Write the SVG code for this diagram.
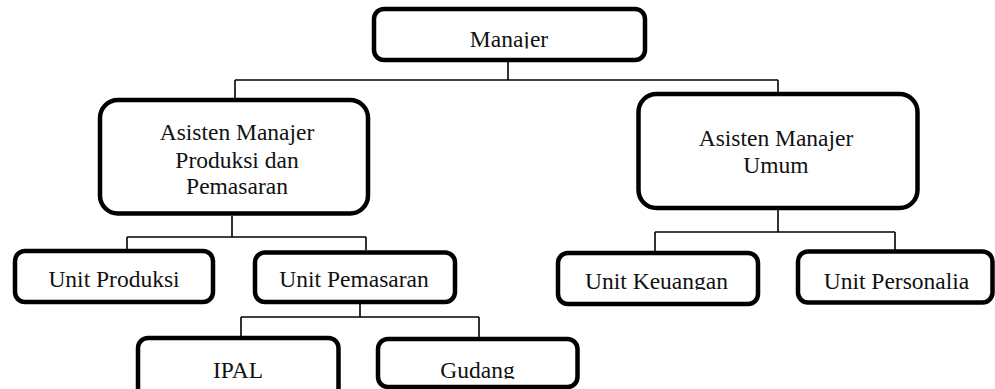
<svg xmlns="http://www.w3.org/2000/svg" width="995" height="389" viewBox="0 0 995 389">
  <style>
    .box { fill: #ffffff; stroke: #000000; stroke-width: 4.5; }
    .lbl { font-family: "Liberation Serif", "Times New Roman", serif; font-size: 23.5px; fill: #111111; text-anchor: middle; }
    .wire { fill: none; stroke: #000000; stroke-width: 1.6; }
  </style>
  <defs>
    <!-- text frames that cut off descenders -->
    <clipPath id="clipTop"><rect x="380" y="12" width="260" height="36.5"/></clipPath>
    <clipPath id="clipKeu"><rect x="562" y="256" width="190" height="34"/></clipPath>
    <clipPath id="clipGud"><rect x="382" y="342" width="190" height="37"/></clipPath>
  </defs>

  <g id="connectors">
    <path class="wire" d="M508 62 V80 M235 80 H778 M235 80 V98 M778 80 V92"/>
    <path class="wire" d="M232 216 V237 M127 237 H366 M127 237 V249 M366 237 V250"/>
    <path class="wire" d="M360 304 V317 M241 317 H479 M241 317 V336 M479 317 V337"/>
    <path class="wire" d="M778 210 V232 M655 232 H895 M655 232 V251 M895 232 V250"/>
  </g>

  <g id="manajer">
    <rect class="box" x="374" y="9" width="271" height="51" rx="10"/>
    <text class="lbl" x="509" y="47" clip-path="url(#clipTop)">Manajer</text>
  </g>

  <g id="asisten-produksi">
    <rect class="box" x="100" y="100" width="268" height="113.5" rx="18"/>
    <text class="lbl" x="237" y="140">Asisten Manajer</text>
    <text class="lbl" x="237" y="167.5">Produksi dan</text>
    <text class="lbl" x="237" y="194">Pemasaran</text>
  </g>

  <g id="asisten-umum">
    <rect class="box" x="638.5" y="94" width="279" height="114" rx="18"/>
    <text class="lbl" x="776" y="146">Asisten Manajer</text>
    <text class="lbl" x="776" y="172.5">Umum</text>
  </g>

  <g id="unit-produksi">
    <rect class="box" x="15" y="251" width="198" height="51" rx="10"/>
    <text class="lbl" x="114" y="287">Unit Produksi</text>
  </g>

  <g id="unit-pemasaran">
    <rect class="box" x="255" y="252.5" width="200" height="49.5" rx="10"/>
    <text class="lbl" x="354" y="287">Unit Pemasaran</text>
  </g>

  <g id="ipal">
    <rect class="box" x="138" y="338" width="200.5" height="70" rx="10"/>
    <text class="lbl" x="238" y="378">IPAL</text>
  </g>

  <g id="gudang">
    <rect class="box" x="378" y="339" width="199.5" height="48" rx="10"/>
    <text class="lbl" x="477.5" y="377.5" clip-path="url(#clipGud)">Gudang</text>
  </g>

  <g id="unit-keuangan">
    <rect class="box" x="558" y="253" width="200" height="51" rx="10"/>
    <text class="lbl" x="656.5" y="289" clip-path="url(#clipKeu)">Unit Keuangan</text>
  </g>

  <g id="unit-personalia">
    <rect class="box" x="798" y="251.5" width="194.5" height="51" rx="10"/>
    <text class="lbl" x="896.5" y="289">Unit Personalia</text>
  </g>
</svg>
